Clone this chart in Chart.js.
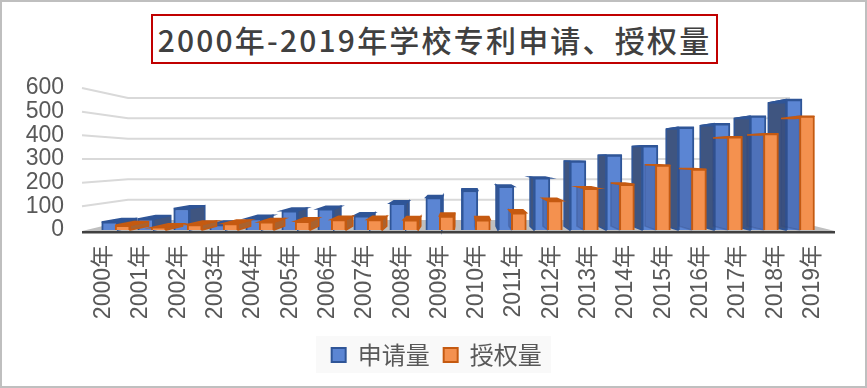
<!DOCTYPE html>
<html lang="zh">
<head>
<meta charset="utf-8">
<title>2000年-2019年学校专利申请、授权量</title>
<script src="https://cdn.jsdelivr.net/npm/chart.js@4"></script>
<style>
    html, body { margin: 0; padding: 0; background: #fff; overflow: hidden; }
    #wrap { position: relative; width: 867px; height: 388px; }
    #frame { position: absolute; inset: 0; border: 2px solid #bfbfbf; pointer-events: none; }
    #title {
        position: absolute; left: 151px; top: 14px; width: 563px; height: 46px;
        border: 2px solid #c00000; color: #404040; background: #fff;
        font: 500 30px "Noto Sans CJK SC", sans-serif; letter-spacing: 2.2px;
        line-height: 46px; text-align: center; white-space: nowrap;
    }
</style>
</head>
<body>
<div id="wrap">
    <canvas id="patentChart" width="867" height="388"></canvas>
    <div id="title">2000年-2019年学校专利申请、授权量</div>
    <div id="frame"></div>
</div>
<script>
// Data
const years = ['2000年', '2001年', '2002年', '2003年', '2004年', '2005年', '2006年', '2007年', '2008年', '2009年',
    '2010年', '2011年', '2012年', '2013年', '2014年', '2015年', '2016年', '2017年', '2018年', '2019年'];
const applied = [34, 47, 91, 23, 48, 81, 89, 60, 113, 137, 167, 184, 220, 291, 317, 356, 434, 449, 481, 551];
const granted = [20, 10, 23, 27, 34, 37, 44, 44, 43, 59, 43, 73, 124, 176, 193, 274, 257, 394, 407, 481];
const yTicks = [0, 100, 200, 300, 400, 500, 600];

// Perspective of the fake 3D box
const vanishX = 464, vanishY = 159, barDepth = 0.945, wallDepthY = 0.86;

function project(x, y) {
    return [vanishX + (x - vanishX) * barDepth, vanishY + (y - vanishY) * barDepth];
}

function poly(ctx, pts, fill, stroke) {
    ctx.beginPath();
    pts.forEach((p, i) => (i ? ctx.lineTo(p[0], p[1]) : ctx.moveTo(p[0], p[1])));
    ctx.closePath();
    ctx.fillStyle = fill;
    ctx.fill();
    ctx.strokeStyle = stroke;
    ctx.lineWidth = 1.5;
    ctx.stroke();
}

const box3d = {
    id: 'box3d',
    afterLayout(chart) {
        // the legend is centred under the whole chart in the picture, not the plot
        chart.legend.left += 21;
        chart.legend.right += 21;
    },
    beforeDraw(chart) {
        // legend background
        chart.ctx.fillStyle = '#f9f9f9';
        chart.ctx.fillRect(316, 336, 235, 37);
    },
    beforeDatasetsDraw(chart) {
        const ctx = chart.ctx, y = chart.scales.y;
        const frontL = 82, frontR = 835, backL = 128, backR = 790;
        const y0 = y.getPixelForValue(0);
        const back = (py) => vanishY + (py - vanishY) * wallDepthY;

        // floor
        ctx.fillStyle = '#bfbfbf';
        ctx.beginPath();
        ctx.moveTo(frontL, y0 + 1);
        ctx.lineTo(backL, back(y0));
        ctx.lineTo(backR, back(y0));
        ctx.lineTo(frontR, y0 + 1);
        ctx.closePath();
        ctx.fill();

        // gridlines bent along the side wall
        ctx.strokeStyle = '#d9d9d9';
        ctx.lineWidth = 2;
        yTicks.slice(1).forEach((v) => {
            const py = y.getPixelForValue(v);
            ctx.beginPath();
            ctx.moveTo(frontL, py);
            ctx.lineTo(backL, back(py));
            ctx.lineTo(backR, back(py));
            ctx.stroke();
        });
    },
    beforeDatasetDraw(chart, args) {
        const ctx = chart.ctx;
        const isBlue = args.index === 0;
        const edge = isBlue ? '#2f5597' : '#c55a11';
        args.meta.data.forEach((bar) => {
            const l = bar.x - bar.width / 2, r = bar.x + bar.width / 2;
            const sx = bar.x > vanishX ? l : r;
            let side = isBlue ? '#3f5580' : '#a9622f';
            let sideEdge = edge;
            // orange side face shows through the blue bar on the right
            if (!isBlue && bar.x > vanishX) {
                side = 'rgba(50,70,125,0.3)';
                sideEdge = 'rgba(50,70,125,0.3)';
            }
            poly(ctx, [[sx, bar.y], [sx, bar.base], project(sx, bar.base), project(sx, bar.y)], side, sideEdge);
            poly(ctx, [[l, bar.y], [r, bar.y], project(r, bar.y), project(l, bar.y)], edge, edge);
        });
    },
    afterDatasetsDraw(chart) {
        // dark front edge of the floor
        const ctx = chart.ctx, y0 = chart.scales.y.getPixelForValue(0);
        ctx.fillStyle = '#404040';
        ctx.fillRect(82, y0 + 1, 753, 2.5);
    }
};

// bars are not grouped by the library so the orange one can be painted last
const toPoints = (values, shift) => values.map((v, i) => ({ x: i + shift, y: v }));

new Chart(document.getElementById('patentChart'), {
    type: 'bar',
    plugins: [box3d],
    data: {
        labels: years,
        datasets: [
            {
                label: '申请量', data: toPoints(applied, -0.18), order: 2, xAxisID: 'bars', grouped: false,
                backgroundColor: '#5b85d3', borderColor: '#2f5597', borderWidth: 2, barThickness: 16
            },
            {
                label: '授权量', data: toPoints(granted, 0.18), order: 1, xAxisID: 'bars', grouped: false,
                backgroundColor: '#f4914f', borderColor: '#c55a11', borderWidth: 2, barThickness: 15
            }
        ]
    },
    options: {
        responsive: false,
        animation: false,
        layout: { padding: { left: 0, right: 35.65, top: 88, bottom: 11 } },
        plugins: {
            tooltip: { enabled: false },
            legend: {
                position: 'bottom',
                labels: {
                    color: '#595959', boxWidth: 14, boxHeight: 14, padding: 14,
                    font: { family: '"Noto Sans CJK SC"', size: 24 },
                    sort: (a, b) => a.datasetIndex - b.datasetIndex
                }
            }
        },
        scales: {
            // bars sit in perspective, so they get their own narrower scale
            bars: { type: 'linear', display: false, min: -0.865, max: 19.857, offset: false },
            x: {
                type: 'category', offset: true,
                grid: { display: false }, border: { display: false },
                afterFit(scale) { scale.height = 99; },
                ticks: {
                    autoSkip: false, maxRotation: 90, minRotation: 90, padding: 7,
                    color: '#595959',
                    font: { family: '"Liberation Sans", "Noto Sans CJK SC"', size: 23 }
                }
            },
            y: {
                min: 0, max: 600,
                grid: { display: false }, border: { display: false },
                afterFit(scale) { scale.width = 85; },
                ticks: {
                    stepSize: 100, padding: 13, autoSkip: false, color: '#595959',
                    font: { family: '"Liberation Sans"', size: 23 }
                }
            }
        }
    }
});
</script>
</body>
</html>
